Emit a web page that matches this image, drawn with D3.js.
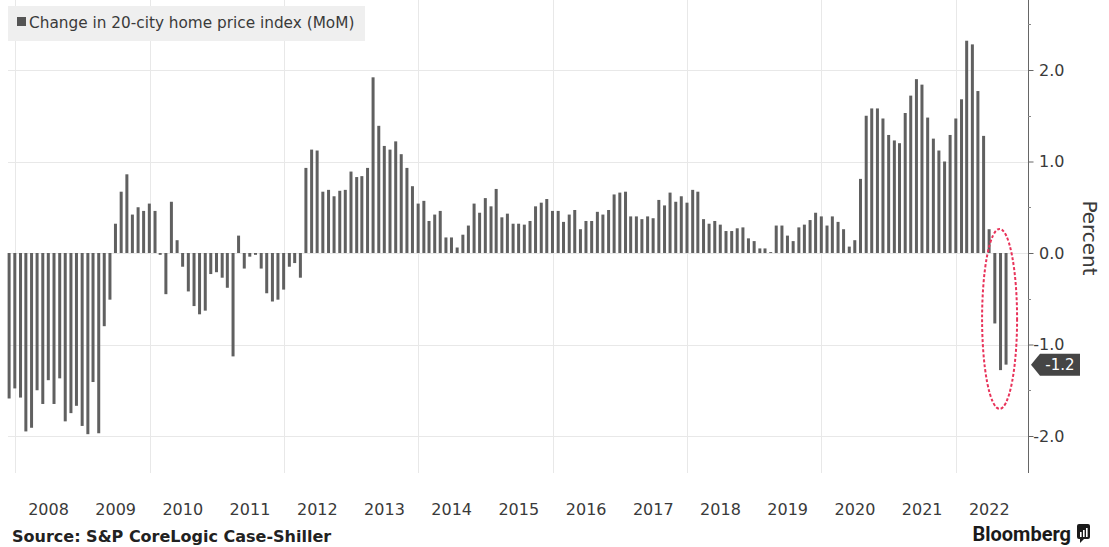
<!DOCTYPE html>
<html>
<head>
<meta charset="utf-8">
<script src="https://cdn.jsdelivr.net/npm/d3@7"></script>
<style>
  html, body { margin: 0; padding: 0; background: #ffffff; }
  svg { display: block; }
</style>
</head>
<body>
<svg id="chart" width="1109" height="547"></svg>
<script>
// ---------------- DATA ----------------
// Monthly % change (MoM), 20-city home price index, Nov 2007 .. Sep 2022
const firstMonth = [2007, 10]; // year, zero-based month (Nov 2007)
const momChange = [
  -1.59, -1.48,                                                                  // 2007 Nov-Dec
  -1.58, -1.95, -1.91, -1.50, -1.65, -1.39, -1.65, -1.37, -1.84, -1.75, -1.67, -1.89, // 2008
  -1.98, -1.41, -1.97, -0.80, -0.51, 0.32, 0.67, 0.86, 0.42, 0.50, 0.46, 0.54,     // 2009
  0.46, -0.02, -0.45, 0.56, 0.14, -0.15, -0.42, -0.58, -0.67, -0.63, -0.23, -0.21, // 2010
  -0.27, -0.38, -1.13, 0.19, -0.17, -0.04, -0.02, -0.17, -0.44, -0.53, -0.51, -0.40, // 2011
  -0.15, -0.11, -0.27, 0.93, 1.13, 1.12, 0.67, 0.69, 0.62, 0.68, 0.69, 0.89,       // 2012
  0.83, 0.84, 0.93, 1.92, 1.39, 1.17, 1.13, 1.22, 1.08, 0.93, 0.73, 0.54,          // 2013
  0.57, 0.35, 0.42, 0.46, 0.17, 0.17, 0.06, 0.20, 0.30, 0.54, 0.44, 0.60,          // 2014
  0.51, 0.70, 0.39, 0.43, 0.32, 0.32, 0.31, 0.35, 0.51, 0.55, 0.59, 0.46,          // 2015
  0.46, 0.34, 0.42, 0.47, 0.26, 0.35, 0.35, 0.45, 0.42, 0.47, 0.64, 0.66,          // 2016
  0.67, 0.40, 0.40, 0.37, 0.40, 0.38, 0.58, 0.52, 0.66, 0.56, 0.62, 0.55,          // 2017
  0.69, 0.67, 0.37, 0.32, 0.35, 0.31, 0.24, 0.24, 0.27, 0.28, 0.16, 0.13,          // 2018
  0.05, 0.05, 0.01, 0.30, 0.30, 0.19, 0.13, 0.28, 0.31, 0.36, 0.44, 0.40,          // 2019
  0.30, 0.40, 0.34, 0.26, 0.07, 0.14, 0.81, 1.50, 1.58, 1.58, 1.47, 1.29,          // 2020
  1.23, 1.20, 1.53, 1.72, 1.90, 1.84, 1.48, 1.25, 1.12, 1.00, 1.29, 1.47,          // 2021
  1.68, 2.32, 2.28, 1.77, 1.28, 0.26, -0.77, -1.28, -1.22                          // 2022
];
const yearLabels = [2008, 2009, 2010, 2011, 2012, 2013, 2014, 2015, 2016, 2017, 2018, 2019, 2020, 2021, 2022];
const gridYears = [2008, 2010, 2012, 2014, 2016, 2018, 2020, 2022];
const yTicks = [-2, -1, 0, 1, 2];
const yMinorTicks = [-1.5, -0.5, 0.5, 1.5, 2.5];
const lastValueLabel = "-1.2";
const legendLabel = "Change in 20-city home price index (MoM)";
const sourceLabel = "Source: S&P CoreLogic Case-Shiller";
const axisTitle = "Percent";

// month-end dates for each observation
const points = momChange.map((v, i) => {
  const d = new Date(firstMonth[0], firstMonth[1] + i + 1, 0); // last day of month
  return { date: d, value: v };
});

// ---------------- LAYOUT ----------------
const svg = d3.select("#chart");
const plotLeft = 8, plotRight = 1028, plotTop = 0, plotBottom = 473;

const x = d3.scaleTime()
  .domain([new Date(2008, 0, 1), new Date(2022, 0, 1)])
  .range([15, 956]);
const y = d3.scaleLinear()
  .domain([-2, 2])
  .range([436, 70]);

const gridColor = "#e8e8e8";

// horizontal grid
svg.append("g").selectAll("line").data(yTicks).join("line")
  .attr("x1", plotLeft).attr("x2", plotRight)
  .attr("y1", d => Math.round(y(d)) + 0.5).attr("y2", d => Math.round(y(d)) + 0.5)
  .attr("stroke", gridColor).attr("stroke-width", 1);

// vertical grid
svg.append("g").selectAll("line").data(gridYears).join("line")
  .attr("x1", d => Math.round(x(new Date(d, 0, 1))) + 0.5)
  .attr("x2", d => Math.round(x(new Date(d, 0, 1))) + 0.5)
  .attr("y1", plotTop).attr("y2", plotBottom)
  .attr("stroke", gridColor).attr("stroke-width", 1);

// legend box
const legend = svg.append("g");
legend.append("rect").attr("x", 8).attr("y", 6).attr("width", 357).attr("height", 35)
  .attr("fill", "#efefef");
legend.append("rect").attr("x", 17).attr("y", 17).attr("width", 9).attr("height", 9)
  .attr("fill", "#555555");
legend.append("text").attr("x", 29).attr("y", 28)
  .attr("font-family", "DejaVu Sans, Verdana, sans-serif").attr("font-size", 15.3)
  .attr("fill", "#3a3a3a").text(legendLabel);

// bars
svg.append("g").selectAll("rect").data(points).join("rect")
  .attr("x", d => x(d.date) - 1.5)
  .attr("width", 3)
  .attr("y", d => Math.min(y(d.value), y(0)))
  .attr("height", d => Math.max(0.8, Math.abs(y(d.value) - y(0))))
  .attr("fill", "#606060");

// right axis
const yAxis = d3.axisRight(y).tickValues(yTicks).tickSize(5).tickPadding(4)
  .tickFormat(d => d.toFixed(1));
const ag = svg.append("g").attr("transform", `translate(${plotRight + 0.5},0)`).call(yAxis);
ag.select(".domain").remove();
ag.selectAll(".tick line").attr("stroke", "#666");
ag.selectAll(".tick text")
  .attr("x", 36).attr("text-anchor", "end")
  .attr("font-family", "DejaVu Sans, Verdana, sans-serif").attr("font-size", 16)
  .attr("fill", "#3a3a3a");
svg.append("line").attr("x1", plotRight + 0.5).attr("x2", plotRight + 0.5)
  .attr("y1", plotTop).attr("y2", plotBottom).attr("stroke", "#666");
svg.append("g").selectAll("line").data(yMinorTicks).join("line")
  .attr("x1", plotRight).attr("x2", plotRight + 3)
  .attr("y1", d => Math.round(y(d)) + 0.5).attr("y2", d => Math.round(y(d)) + 0.5)
  .attr("stroke", "#888");

// axis title
svg.append("text")
  .attr("transform", `translate(1090,238) rotate(90)`)
  .attr("text-anchor", "middle").attr("dy", "0.35em")
  .attr("font-family", "DejaVu Sans, Verdana, sans-serif").attr("font-size", 20)
  .attr("fill", "#3a3a3a").text(axisTitle);

// year labels
svg.append("g").selectAll("text").data(yearLabels).join("text")
  .attr("x", d => x(new Date(d, 6, 1)))
  .attr("y", 515)
  .attr("text-anchor", "middle")
  .attr("font-family", "DejaVu Sans, Verdana, sans-serif").attr("font-size", 16)
  .attr("fill", "#3a3a3a").text(d => d);

// last value tag
const last = points[points.length - 1];
const ty = y(last.value);
const tag = svg.append("g");
tag.append("path")
  .attr("d", `M${plotRight + 3},${ty} L${plotRight + 12},${ty - 11} L${plotRight + 52},${ty - 11} L${plotRight + 52},${ty + 11} L${plotRight + 12},${ty + 11} Z`)
  .attr("fill", "#454545");
tag.append("text").attr("x", plotRight + 32).attr("y", ty).attr("dy", "0.36em")
  .attr("text-anchor", "middle")
  .attr("font-family", "DejaVu Sans, Verdana, sans-serif").attr("font-size", 15)
  .attr("fill", "#ffffff").text(lastValueLabel);

// red dashed ellipse highlighting the latest declines
const recent = points.slice(-4);
const ex = (x(recent[0].date) + x(recent[recent.length - 1].date)) / 2 + 2;
svg.append("ellipse")
  .attr("cx", ex).attr("cy", y(-0.72))
  .attr("rx", 17.5).attr("ry", 90)
  .attr("fill", "none").attr("stroke", "#e8335a").attr("stroke-width", 2)
  .attr("stroke-dasharray", "3,2");

// source
svg.append("text").attr("x", 12).attr("y", 542)
  .attr("font-family", "DejaVu Sans, Verdana, sans-serif").attr("font-size", 16)
  .attr("font-weight", "bold").attr("fill", "#222").text(sourceLabel);

// Bloomberg logo
const logo = svg.append("g");
logo.append("text").attr("x", 1071).attr("y", 541).attr("text-anchor", "end")
  .attr("font-family", "Roboto, Liberation Sans, sans-serif").attr("font-size", 20)
  .attr("font-weight", 700).attr("fill", "#1a1a1a").text("Bloomberg");
logo.append("rect").attr("x", 1077).attr("y", 524).attr("width", 13).attr("height", 15)
  .attr("rx", 2).attr("fill", "#1a1a1a");
logo.append("path").attr("d", "M1080,539 L1080,543 L1084,539 Z").attr("fill", "#1a1a1a");
[[1080, 532], [1083, 530], [1086, 528]].forEach(b => {
  logo.append("rect").attr("x", b[0]).attr("y", b[1]).attr("width", 1.6).attr("height", 537 - b[1])
    .attr("fill", "#ffffff");
});
</script>
</body>
</html>
